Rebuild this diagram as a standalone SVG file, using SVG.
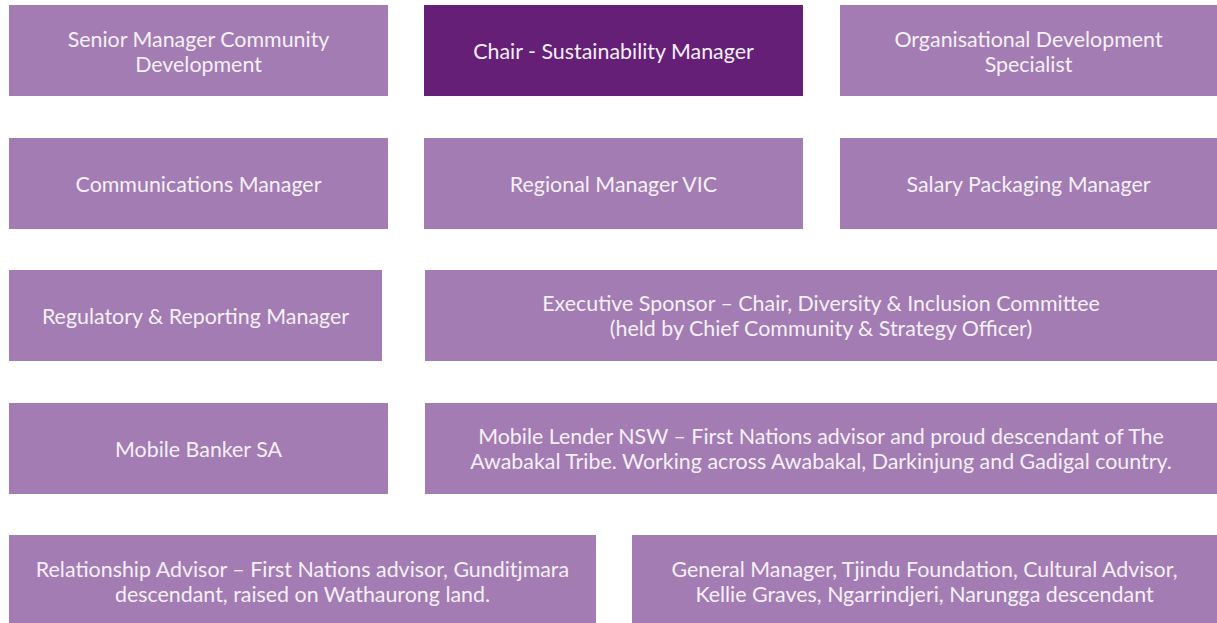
<svg xmlns="http://www.w3.org/2000/svg" width="1217" height="623" viewBox="0 0 1217 623">
<style>
.box{fill:#a37cb3}
.dark{fill:#651f77}
text{font-family:Lato,"Open Sans","Liberation Sans",sans-serif;font-size:21.4px;font-weight:400;fill:#f5f0f7;text-anchor:middle}
</style>
<rect width="1217" height="623" fill="#ffffff"/>
<g id="connectors"></g>
<g id="n1"><rect class="box" x="9" y="5" width="379" height="91"/><text x="198.5" y="46.5">Senior Manager Community</text><text x="198.5" y="71.5">Development</text></g>
<g id="n2"><rect class="dark" x="424" y="5" width="379" height="91"/><text x="613.5" y="59">Chair - Sustainability Manager</text></g>
<g id="n3"><rect class="box" x="840" y="5" width="377" height="91"/><text x="1028.5" y="46.5">Organisational Development</text><text x="1028.5" y="71.5">Specialist</text></g>
<g id="n4"><rect class="box" x="9" y="138" width="379" height="91"/><text x="198.5" y="192">Communications Manager</text></g>
<g id="n5"><rect class="box" x="424" y="138" width="379" height="91"/><text x="613.5" y="192">Regional Manager VIC</text></g>
<g id="n6"><rect class="box" x="840" y="138" width="377" height="91"/><text x="1028.5" y="192">Salary Packaging Manager</text></g>
<g id="n7"><rect class="box" x="9" y="270" width="373" height="91"/><text x="195.5" y="324">Regulatory &amp; Reporting Manager</text></g>
<g id="n8"><rect class="box" x="425" y="270" width="792" height="91"/><text x="821" y="311">Executive Sponsor – Chair, Diversity &amp; Inclusion Committee</text><text x="821" y="336">(held by Chief Community &amp; Strategy Officer)</text></g>
<g id="n9"><rect class="box" x="9" y="403" width="379" height="91"/><text x="198.5" y="457">Mobile Banker SA</text></g>
<g id="n10"><rect class="box" x="425" y="403" width="792" height="91"/><text x="821" y="444">Mobile Lender NSW – First Nations advisor and proud descendant of The</text><text x="821" y="469">Awabakal Tribe. Working across Awabakal, Darkinjung and Gadigal country.</text></g>
<g id="n11"><rect class="box" x="9" y="535" width="587" height="88"/><text x="302.5" y="576.5">Relationship Advisor – First Nations advisor, Gunditjmara</text><text x="302.5" y="601.5">descendant, raised on Wathaurong land.</text></g>
<g id="n12"><rect class="box" x="632" y="535" width="585" height="88"/><text x="924.5" y="576.5">General Manager, Tjindu Foundation, Cultural Advisor,</text><text x="924.5" y="601.5">Kellie Graves, Ngarrindjeri, Narungga descendant</text></g>
</svg>
